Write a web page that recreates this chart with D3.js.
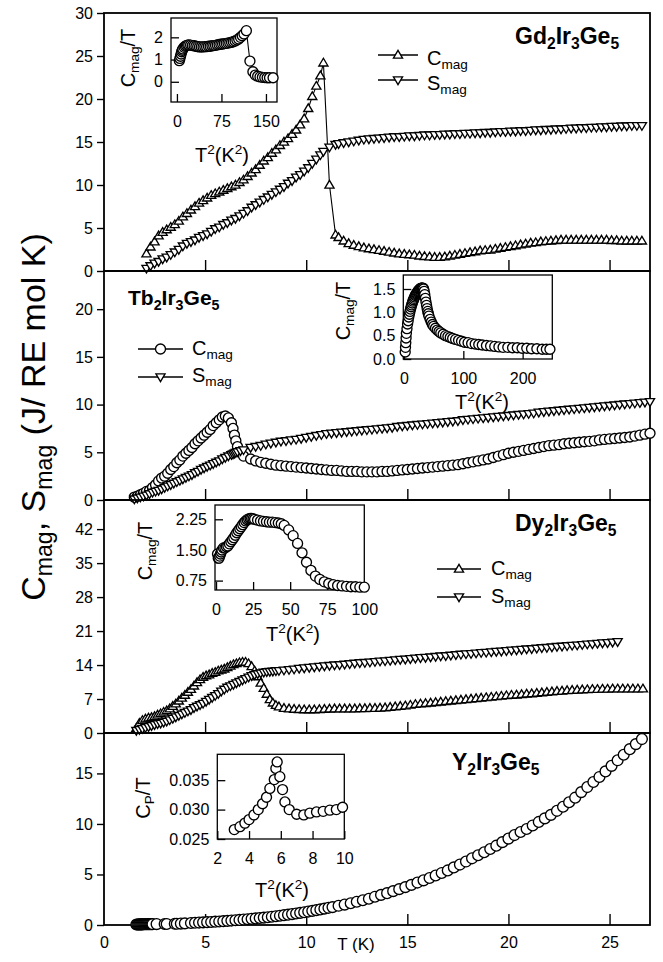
<!DOCTYPE html>
<html><head><meta charset="utf-8">
<script src="https://cdn.jsdelivr.net/npm/d3@7/dist/d3.min.js"></script>
<style>body{margin:0;background:#fff}svg{display:block}text{font-family:"Liberation Sans",Arial,Helvetica,sans-serif}</style>
</head><body><svg id="c" width="663" height="962"></svg>
<script>
// ---------------- DATA ----------------
const xTickValues = [0, 5, 10, 15, 20, 25];
const gdTicks = [0, 5, 10, 15, 20, 25, 30];
const tbTicks = [0, 5, 10, 15, 20];
const dyTicks = [0, 7, 14, 21, 28, 35, 42];
const yTicks = [0, 5, 10, 15];
const panelMax = [30, 24, 48, 19];

// Gd2Ir3Ge5
const gdT = [2.1,2.3,2.5,2.7,2.9,3.1,3.3,3.5,3.7,3.9,4.1,4.3,4.5,4.7,4.9,5.1,5.3,5.5,5.7,5.9,6.1,6.3,6.5,6.7,6.9,7.1,7.3,7.5,7.7,7.9,8.1,8.3,8.5,8.7,8.9,9.1,9.3,9.5,9.7,9.9,10.1,10.3,10.5,10.7,
 10.85,11.15,11.45,
 11.6,11.85,12.1,12.35,12.6,12.85,13.1,13.35,13.6,13.85,14.1,14.35,14.6,14.85,15.1,15.35,15.6,15.85,16.1,16.35,16.6,16.85,17.1,17.35,17.6,17.85,18.1,18.35,18.6,18.85,19.1,19.35,19.6,19.85,20.1,20.35,20.6,20.85,21.1,21.35,21.6,21.85,22.1,22.35,22.6,22.85,23.1,23.35,23.6,23.85,24.1,24.35,24.6,24.85,25.1,25.35,25.6,25.85,26.1,26.35,26.6];
const gdC = [2.0,2.8,3.4,4.1,4.5,4.8,5.1,5.4,5.8,6.3,6.7,7.1,7.5,7.9,8.2,8.5,8.8,9.0,9.2,9.4,9.6,9.8,10.0,10.3,10.6,11.0,11.4,11.8,12.3,12.8,13.2,13.7,14.1,14.6,15.0,15.4,15.9,16.4,17.0,17.7,18.9,20.3,21.5,22.7,
 24.2,10.0,4.2,
 3.9,3.5,3.2,3.0,2.85,2.7,2.6,2.5,2.4,2.3,2.2,2.1,2.0,1.95,1.9,1.85,1.75,1.7,1.65,1.6,1.6,1.65,1.75,1.85,1.95,2.05,2.15,2.25,2.35,2.4,2.45,2.55,2.65,2.75,2.85,2.95,3.05,3.15,3.25,3.3,3.4,3.45,3.5,3.55,3.6,3.6,3.6,3.6,3.6,3.6,3.6,3.6,3.6,3.6,3.55,3.55,3.5,3.5,3.5,3.5,3.5];
const gdS = [0.3,0.6,0.9,1.1,1.4,1.6,1.9,2.2,2.5,2.9,3.2,3.4,3.6,3.9,4.1,4.3,4.6,4.9,5.1,5.4,5.6,5.9,6.1,6.4,6.7,7.0,7.4,7.7,8.0,8.3,8.6,8.9,9.2,9.5,9.8,10.2,10.5,10.9,11.2,11.6,12.0,12.5,13.0,13.5,
 13.9,14.4,14.7,
 14.8,14.9,15.0,15.1,15.2,15.3,15.35,15.4,15.45,15.5,15.55,15.6,15.6,15.65,15.7,15.7,15.75,15.8,15.8,15.85,15.85,15.9,15.9,15.95,15.95,16.0,16.0,16.05,16.05,16.1,16.1,16.15,16.2,16.2,16.25,16.25,16.3,16.3,16.35,16.4,16.4,16.45,16.45,16.5,16.5,16.55,16.6,16.6,16.65,16.65,16.7,16.7,16.75,16.75,16.8,16.8,16.85,16.85,16.9,16.9,16.9];

// Tb2Ir3Ge5
const tbT = [1.5,1.65,1.8,1.95,2.1,2.25,2.4,2.55,2.7,2.85,3.0,3.15,3.3,3.45,3.6,3.75,3.9,4.05,4.2,4.35,4.5,4.65,4.8,4.95,5.1,5.25,5.4,5.55,5.7,5.85,6.0,6.15,6.3,6.38,6.45,6.52,6.6,6.75,6.9,
 7.25,7.5,7.75,8.0,8.25,8.5,8.75,9.0,9.25,9.5,9.75,10.0,10.25,10.5,10.75,11.0,11.25,11.5,11.75,12.0,12.25,12.5,12.75,13.0,13.25,13.5,13.75,14.0,14.25,14.5,14.75,15.0,15.25,15.5,15.75,16.0,16.25,16.5,16.75,17.0,17.25,17.5,17.75,18.0,18.25,18.5,18.75,19.0,19.25,19.5,19.75,20.0,20.25,20.5,20.75,21.0,21.25,21.5,21.75,22.0,22.25,22.5,22.75,23.0,23.25,23.5,23.75,24.0,24.25,24.5,24.75,25.0,25.25,25.5,25.75,26.0,26.25,26.5,26.75,27.0];
const tbC = [0.3,0.4,0.55,0.7,0.9,1.0,1.3,1.6,2.0,2.3,2.5,2.8,3.2,3.5,3.9,4.2,4.6,4.9,5.2,5.5,5.9,6.2,6.5,6.8,7.1,7.4,7.8,8.1,8.4,8.7,8.8,8.6,8.1,7.5,6.8,6.2,5.6,5.0,4.6,
 4.3,4.1,3.95,3.85,3.75,3.65,3.6,3.55,3.5,3.45,3.4,3.35,3.3,3.25,3.2,3.15,3.1,3.1,3.05,3.0,3.0,3.0,2.95,2.95,2.95,2.95,3.0,3.0,3.05,3.1,3.15,3.2,3.25,3.3,3.35,3.4,3.45,3.5,3.55,3.6,3.65,3.7,3.8,3.9,4.0,4.1,4.2,4.3,4.45,4.6,4.75,4.9,5.0,5.1,5.2,5.3,5.4,5.5,5.6,5.7,5.75,5.8,5.9,5.95,6.0,6.05,6.1,6.15,6.2,6.3,6.35,6.4,6.45,6.5,6.55,6.6,6.7,6.8,6.9,7.0];
const tbS = [0.1,0.2,0.3,0.4,0.5,0.65,0.8,0.9,1.0,1.15,1.3,1.45,1.6,1.75,1.9,2.05,2.2,2.35,2.5,2.65,2.85,3.0,3.2,3.35,3.5,3.65,3.8,3.95,4.1,4.3,4.45,4.6,4.75,4.82,4.9,4.97,5.05,5.15,5.25,
 5.5,5.6,5.7,5.85,5.95,6.05,6.15,6.2,6.3,6.35,6.45,6.55,6.65,6.75,6.85,6.95,7.0,7.05,7.1,7.15,7.2,7.25,7.3,7.35,7.4,7.45,7.5,7.55,7.6,7.7,7.75,7.8,7.85,7.9,7.95,8.0,8.05,8.1,8.15,8.2,8.25,8.3,8.4,8.45,8.5,8.55,8.6,8.65,8.7,8.75,8.8,8.85,8.9,8.95,9.0,9.05,9.1,9.2,9.25,9.3,9.35,9.4,9.45,9.5,9.55,9.6,9.65,9.7,9.75,9.8,9.85,9.9,9.95,10.0,10.05,10.1,10.15,10.2,10.25,10.3];

// Dy2Ir3Ge5
const dyT = [1.6,1.75,1.9,2.05,2.2,2.35,2.5,2.65,2.8,2.95,3.1,3.25,3.4,3.55,3.7,3.85,4.0,4.15,4.3,4.45,4.6,4.75,4.9,5.05,5.2,5.35,5.5,5.65,5.8,5.95,6.1,6.25,6.4,6.55,6.7,6.85,7.0,7.15,7.3,7.45,7.6,7.75,7.9,8.05,8.2,8.35,8.5,8.65,
 8.9,9.15,9.4,9.65,9.9,10.15,10.4,10.65,10.9,11.15,11.4,11.65,11.9,12.15,12.4,12.65,12.9,13.15,13.4,13.65,13.9,14.15,14.4,14.65,14.9,15.15,15.4,15.65,15.9,16.15,16.4,16.65,16.9,17.15,17.4,17.65,17.9,18.15,18.4,18.65,18.9,19.15,19.4,19.65,19.9,20.15,20.4,20.65,20.9,21.15,21.4,21.65,21.9,22.15,22.4,22.65,22.9,23.15,23.4,23.65,23.9,24.15,24.4,24.65,24.9,25.15,25.4,25.65,25.9,26.15,26.4,26.65];
const dyC = [1.0,2.0,2.6,2.9,3.1,3.2,3.4,3.7,4.0,4.3,4.6,5.0,5.5,6.0,6.6,7.2,7.8,8.4,9.0,9.7,10.4,11.0,11.5,11.8,12.0,12.3,12.5,12.8,13.0,13.2,13.5,13.8,14.1,14.3,14.5,14.6,14.6,14.3,13.7,12.8,11.6,10.3,9.2,8.0,6.9,6.2,5.7,5.4,
 5.1,5.0,4.9,4.85,4.8,4.8,4.8,4.85,4.9,4.95,5.0,5.0,5.0,5.0,5.0,5.05,5.05,5.1,5.1,5.15,5.2,5.3,5.4,5.5,5.6,5.75,5.9,6.0,6.1,6.2,6.3,6.4,6.5,6.6,6.7,6.8,6.9,7.0,7.1,7.2,7.3,7.4,7.5,7.6,7.7,7.8,7.85,7.95,8.05,8.1,8.2,8.3,8.4,8.5,8.6,8.65,8.75,8.8,8.85,8.9,8.95,9.0,9.0,9.05,9.05,9.1,9.1,9.1,9.1,9.1,9.1,9.1];
const dyS = [0.5,0.7,0.9,1.1,1.3,1.5,1.7,1.9,2.0,2.2,2.4,2.7,3.0,3.3,3.6,3.9,4.2,4.5,4.8,5.2,5.5,5.8,6.1,6.5,6.9,7.3,7.7,8.1,8.6,9.0,9.4,9.7,10.0,10.3,10.6,10.9,11.2,11.5,11.8,12.0,12.2,12.35,12.5,12.6,12.65,12.7,12.8,12.85,
 12.95,13.05,13.15,13.3,13.4,13.5,13.6,13.7,13.8,13.9,14.0,14.05,14.15,14.25,14.35,14.45,14.5,14.6,14.7,14.8,14.85,14.95,15.05,15.15,15.2,15.3,15.4,15.5,15.55,15.65,15.75,15.85,15.9,16.0,16.1,16.2,16.3,16.35,16.45,16.55,16.6,16.7,16.8,16.85,16.95,17.05,17.1,17.2,17.3,17.35,17.45,17.55,17.6,17.7,17.8,17.85,17.95,18.05,18.1,18.2,18.3,18.35,18.45,18.55,18.6,18.7,18.8];

// Y2Ir3Ge5
const yT = [1.6,1.65,1.7,1.75,1.8,1.85,1.9,1.95,2.0,2.05,2.1,2.15,2.2,2.25,2.3,2.35,2.4,
 2.6,3.0,3.1,3.5,3.6,3.8,4.0,
 4.3,4.5,4.7,4.9,5.1,5.3,5.5,5.7,5.9,6.1,6.3,6.5,6.7,6.9,7.1,7.3,7.5,7.7,7.9,8.1,8.3,8.5,8.7,8.9,9.1,9.3,9.5,9.7,9.9,10.1,10.3,10.5,10.7,10.9,11.1,
 11.3,11.6,11.9,12.2,12.5,12.8,13.1,13.4,13.7,14.0,14.3,14.6,14.9,15.2,15.5,15.8,16.1,16.4,16.7,17.0,17.3,17.6,17.9,18.2,18.5,18.8,19.1,19.4,19.7,20.0,20.3,20.6,20.9,21.2,21.5,21.8,22.1,22.4,22.7,23.0,23.3,23.6,23.9,24.2,24.5,24.8,25.1,25.4,25.7,26.0,26.3,26.6];
const yC = [0.05,0.05,0.05,0.06,0.06,0.06,0.06,0.07,0.07,0.07,0.07,0.07,0.08,0.08,0.08,0.08,0.08,
 0.09,0.1,0.1,0.12,0.12,0.14,0.16,
 0.2,0.22,0.24,0.26,0.28,0.3,0.33,0.35,0.38,0.41,0.44,0.47,0.5,0.54,0.57,0.61,0.65,0.69,0.73,0.77,0.82,0.87,0.92,0.97,1.02,1.08,1.14,1.2,1.26,1.33,1.4,1.47,1.54,1.62,1.7,
 1.77,1.9,2.02,2.15,2.3,2.45,2.6,2.8,2.98,3.15,3.35,3.55,3.75,3.97,4.2,4.42,4.65,4.9,5.15,5.4,5.7,5.98,6.28,6.6,6.9,7.2,7.52,7.85,8.2,8.55,8.9,9.2,9.5,9.85,10.2,10.55,10.9,11.3,11.7,12.15,12.6,13.15,13.65,14.15,14.65,15.2,15.75,16.3,16.85,17.4,17.9,18.4];

// Insets: T^2 (K^2) vs C/T
const gdInT2 = [4,5,6,7,8,9,10,12,14,16,18,20,23,26,29,32,35,38,41,44,47,50,53,56,59,62,65,68,71,74,77,80,83,86,89,92,95,98,101,104,107,110,113,117,123,128,132,136,140,144,148,152,156,162];
const gdInC = [0.95,1.05,1.15,1.25,1.35,1.42,1.48,1.55,1.6,1.63,1.65,1.66,1.65,1.63,1.62,1.6,1.58,1.57,1.57,1.57,1.58,1.58,1.6,1.6,1.62,1.63,1.64,1.66,1.68,1.69,1.7,1.72,1.73,1.74,1.76,1.78,1.8,1.84,1.88,1.93,2.0,2.07,2.15,2.3,0.93,0.45,0.3,0.25,0.22,0.2,0.19,0.18,0.18,0.18];
const gdInXTicks = [0, 75, 150];
const gdInYTicks = [0, 1, 2];
const gdInYLabels = ["0", "1", "2"];

const tbInT2 = [2,2.5,3,3.5,4,5,6,7,8,9,10,11,12,13,14,15,16,17,18,19,20,21,22,23,24,25,26,27,28,29,30,31,32,33,34,35,36,37,38,39,40,41,42,44,46,48,50,53,56,59,62,66,70,74,78,82,87,92,97,102,108,114,120,126,132,139,146,153,160,167,175,183,191,199,207,215,224,233,240,246];
const tbInC = [0.15,0.25,0.35,0.45,0.55,0.65,0.75,0.82,0.9,0.96,1.02,1.07,1.12,1.16,1.2,1.24,1.27,1.3,1.33,1.36,1.38,1.4,1.42,1.44,1.46,1.47,1.49,1.5,1.51,1.52,1.52,1.52,1.52,1.5,1.45,1.38,1.3,1.22,1.15,1.08,1.02,0.97,0.92,0.85,0.79,0.74,0.7,0.66,0.62,0.59,0.56,0.53,0.5,0.48,0.46,0.44,0.42,0.4,0.38,0.36,0.35,0.33,0.32,0.31,0.3,0.29,0.28,0.27,0.26,0.25,0.25,0.24,0.24,0.23,0.23,0.22,0.22,0.21,0.21,0.21];
const tbInXTicks = [0, 100, 200];
const tbInYTicks = [0, 0.5, 1.0, 1.5];
const tbInYLabels = ["0.0", "0.5", "1.0", "1.5"];

const dyInT2 = [1,1.5,2,2.5,3,3.5,4,5,6,7,8,9,10,11,12,13,14,15,16,17,18,19,20,21,22,23,24,25,26,28,30,32,34,36,38,40,42,44,46,49,52,55,58,61,64,67,70,73,76,79,82,85,88,91,94,97,100];
const dyInC = [1.4,1.3,1.3,1.35,1.4,1.45,1.5,1.55,1.55,1.58,1.6,1.65,1.7,1.75,1.8,1.86,1.92,1.97,2.02,2.07,2.12,2.17,2.21,2.24,2.26,2.27,2.27,2.26,2.25,2.23,2.21,2.2,2.19,2.18,2.18,2.17,2.16,2.14,2.1,1.99,1.85,1.66,1.43,1.2,1.0,0.86,0.78,0.72,0.68,0.65,0.63,0.62,0.61,0.6,0.6,0.59,0.59];
const dyInXTicks = [0, 25, 50, 75, 100];
const dyInYTicks = [0.75, 1.5, 2.25];
const dyInYLabels = ["0.75", "1.50", "2.25"];

const yInT2 = [3.07,3.43,3.74,4.0,4.31,4.58,4.85,5.1,5.31,5.59,5.69,5.77,5.94,6.11,6.26,6.53,7.0,7.45,7.83,8.25,8.67,9.09,9.5,9.89];
const yInC = [0.0266,0.0271,0.0277,0.0283,0.0291,0.0300,0.0310,0.0321,0.0336,0.0351,0.0370,0.0381,0.0356,0.0334,0.0313,0.0300,0.0292,0.0291,0.0294,0.0296,0.0297,0.0299,0.0300,0.0304];
const yInXTicks = [2, 4, 6, 8, 10];
const yInYTicks = [0.025, 0.030, 0.035];
const yInYLabels = ["0.025", "0.030", "0.035"];

// ---------------- LAYOUT / DRAW ----------------
const svg = d3.select('#c');
const FONT = '"Liberation Sans", Arial, Helvetica, sans-serif';
const x = d3.scaleLinear().domain([0, 27]).range([104, 650]);

function rich(parent, px, py, parts, size, anchor, rotate, bold) {
  const t = parent.append('text').attr('x', px).attr('y', py)
    .attr('font-size', size).attr('text-anchor', anchor || 'start').attr('fill', '#000')
    .attr('font-family', FONT);
  if (bold) t.attr('font-weight', 'bold');
  if (rotate) t.attr('transform', `rotate(-90 ${px} ${py})`);
  let cur = 0;
  parts.forEach(p => {
    const s = typeof p === 'string' ? p : p[0];
    const k = typeof p === 'string' ? 'n' : p[1];
    const target = k === 'sub' ? 0.22 * size : (k === 'sup' ? -0.4 * size : 0);
    const ts = t.append('tspan').text(s);
    if (target !== cur) ts.attr('dy', target - cur);
    if (k !== 'n') ts.attr('font-size', size * 0.68);
    cur = target;
  });
  return t;
}

function markerPath(type, s) {
  if (type === 'circle') {
    return `M${s},0A${s},${s} 0 1,1 ${-s},0A${s},${s} 0 1,1 ${s},0Z`;
  }
  const w = s * 0.95, h = s * 1.6;
  if (type === 'up') return `M0,${-h * 0.6}L${w},${h * 0.4}L${-w},${h * 0.4}Z`;
  return `M0,${h * 0.6}L${w},${-h * 0.4}L${-w},${-h * 0.4}Z`;
}

function drawSeries(g, xs, ys, xs_, ys_, type, size, line) {
  const n = Math.min(xs.length, ys.length);
  const pts = d3.range(n).map(i => [xs_(xs[i]), ys_(ys[i])]);
  if (line) {
    g.append('path').attr('d', d3.line()(pts)).attr('fill', 'none')
      .attr('stroke', '#000').attr('stroke-width', 1.1);
  }
  g.append('g').selectAll('path').data(pts).join('path')
    .attr('d', markerPath(type, size))
    .attr('transform', d => `translate(${d[0]},${d[1]})`)
    .attr('fill', '#fff').attr('stroke', '#000').attr('stroke-width', 1.35);
}

const panels = [
  { top: 13, bottom: 271, max: panelMax[0], ticks: gdTicks,
    series: [[gdT, gdC, 'up', 4.8, true], [gdT, gdS, 'down', 4.8, true]],
    label: { x: 515, y: 44, size: 23, parts: ['Gd', ['2', 'sub'], 'Ir', ['3', 'sub'], 'Ge', ['5', 'sub']] },
    legend: { x0: 378, x1: 418, tx: 427, rows: [[55, 65, 'up', 'C'], [80, 90, 'down', 'S']] } },
  { top: 271, bottom: 500, max: panelMax[1], ticks: tbTicks,
    series: [[tbT, tbC, 'circle', 5, true], [tbT, tbS, 'down', 4.8, true]],
    label: { x: 128, y: 305, size: 21, parts: ['Tb', ['2', 'sub'], 'Ir', ['3', 'sub'], 'Ge', ['5', 'sub']] },
    legend: { x0: 138, x1: 183, tx: 192, rows: [[349, 355, 'circle', 'C'], [377, 382, 'down', 'S']] } },
  { top: 500, bottom: 733, max: panelMax[2], ticks: dyTicks,
    series: [[dyT, dyC, 'up', 4.8, true], [dyT, dyS, 'down', 4.8, true]],
    label: { x: 515, y: 531, size: 23, parts: ['Dy', ['2', 'sub'], 'Ir', ['3', 'sub'], 'Ge', ['5', 'sub']] },
    legend: { x0: 437, x1: 481, tx: 491, rows: [[569, 575, 'up', 'C'], [597, 603, 'down', 'S']] } },
  { top: 733, bottom: 925, max: panelMax[3], ticks: yTicks,
    series: [[yT, yC, 'circle', 5.4, false]],
    label: { x: 452, y: 770, size: 23, parts: ['Y', ['2', 'sub'], 'Ir', ['3', 'sub'], 'Ge', ['5', 'sub']] },
    legend: null }
];

panels.forEach((p, pi) => {
  const y = d3.scaleLinear().domain([0, p.max]).range([p.bottom, p.top]);
  const g = svg.append('g');
  g.append('rect').attr('x', x(0)).attr('y', p.top).attr('width', x(27) - x(0))
    .attr('height', p.bottom - p.top).attr('fill', 'none').attr('stroke', '#000').attr('stroke-width', 1.8);
  const ay = g.append('g').attr('transform', `translate(${x(0)},0)`)
    .call(d3.axisLeft(y).tickValues(p.ticks).tickSize(7).tickPadding(4));
  ay.select('.domain').remove();
  ay.selectAll('line').attr('stroke', '#000').attr('stroke-width', 1.4);
  ay.selectAll('text').attr('font-size', 16).attr('font-family', FONT).attr('fill', '#000');
  const ax = g.append('g').attr('transform', `translate(0,${p.bottom})`)
    .call(d3.axisBottom(x).tickValues(xTickValues.filter(v => v > 0)).tickSize(-11).tickFormat(''));
  ax.select('.domain').remove();
  ax.selectAll('line').attr('stroke', '#000').attr('stroke-width', 1.4);
  if (pi === panels.length - 1) {
    const axl = g.append('g').attr('transform', `translate(0,${p.bottom})`)
      .call(d3.axisBottom(x).tickValues(xTickValues).tickSize(0).tickPadding(12));
    axl.select('.domain').remove();
    axl.selectAll('line').remove();
    axl.selectAll('text').attr('font-size', 16).attr('font-family', FONT).attr('fill', '#000');
  }
  p.series.forEach(s => drawSeries(g, s[0], s[1], x, y, s[2], s[3], s[4]));
  rich(g, p.label.x, p.label.y, p.label.parts, p.label.size, 'start', false, true);
  if (p.legend) {
    const L = p.legend;
    L.rows.forEach(r => {
      g.append('line').attr('x1', L.x0).attr('x2', L.x1).attr('y1', r[0]).attr('y2', r[0])
        .attr('stroke', '#000').attr('stroke-width', 1.6);
      g.append('path').attr('d', markerPath(r[2], r[2] === 'circle' ? 5 : 4.8))
        .attr('transform', `translate(${(L.x0 + L.x1) / 2},${r[0]})`)
        .attr('fill', '#fff').attr('stroke', '#000').attr('stroke-width', 1.35);
      rich(g, L.tx, r[1], [r[3], ['mag', 'sub']], 20, 'start');
    });
  }
});

// axis titles
rich(svg, 356, 950, ['T (K)'], 17, 'middle');
rich(svg, 45, 417, ['C', ['mag', 'sub'], ', S', ['mag', 'sub'], ' (J/ RE mol K)'], 34, 'middle', true);

// insets
const insets = [
  { box: [171, 18, 277, 102], xd: [-10, 168.6], yd: [-0.91, 2.87], xs: gdInT2, ys: gdInC, line: true,
    xt: gdInXTicks, yt: gdInYTicks, yl: gdInYLabels,
    ylab: { x: 135, y: 58, parts: ['C', ['mag', 'sub'], '/T'] }, xlab: { x: 222, y: 162 } },
  { box: [403.3, 275, 552.3, 359], xd: [-1.2, 250], yd: [0, 1.8], xs: tbInT2, ys: tbInC, line: false,
    xt: tbInXTicks, yt: tbInYTicks, yl: tbInYLabels,
    ylab: { x: 350, y: 311, parts: ['C', ['mag', 'sub'], '/T'] }, xlab: { x: 482, y: 409 } },
  { box: [215, 505, 364.3, 590], xd: [-0.7, 100], yd: [0.52, 2.6], xs: dyInT2, ys: dyInC, line: false,
    xt: dyInXTicks, yt: dyInYTicks, yl: dyInYLabels,
    ylab: { x: 152, y: 551, parts: ['C', ['mag', 'sub'], '/T'] }, xlab: { x: 293, y: 641 } },
  { box: [217.3, 754.3, 344.3, 839], xd: [2, 10], yd: [0.025, 0.0394], xs: yInT2, ys: yInC, line: false,
    xt: yInXTicks, yt: yInYTicks, yl: yInYLabels,
    ylab: { x: 150, y: 798, parts: ['C', ['P', 'sub'], '/T'] }, xlab: { x: 282, y: 897 } }
];

insets.forEach(ins => {
  const [x0, y0, x1, y1] = ins.box;
  const g = svg.append('g');
  const xs = d3.scaleLinear().domain(ins.xd).range([x0, x1]);
  const ys = d3.scaleLinear().domain(ins.yd).range([y1, y0]);
  g.append('rect').attr('x', x0).attr('y', y0).attr('width', x1 - x0).attr('height', y1 - y0)
    .attr('fill', '#fff').attr('stroke', '#000').attr('stroke-width', 1.3);
  const ax = g.append('g').attr('transform', `translate(0,${y1})`)
    .call(d3.axisBottom(xs).tickValues(ins.xt).tickSize(-8).tickPadding(13.5));
  ax.select('.domain').remove();
  ax.selectAll('line').attr('stroke', '#000').attr('stroke-width', 1.3);
  ax.selectAll('text').attr('font-size', 16).attr('font-family', FONT).attr('fill', '#000');
  const ay = g.append('g').attr('transform', `translate(${x0},0)`)
    .call(d3.axisLeft(ys).tickValues(ins.yt).tickSize(-8).tickPadding(8)
      .tickFormat((d, i) => ins.yl[i]));
  ay.select('.domain').remove();
  ay.selectAll('line').attr('stroke', '#000').attr('stroke-width', 1.3);
  ay.selectAll('text').attr('font-size', 16).attr('font-family', FONT).attr('fill', '#000');
  drawSeries(g, ins.xs, ins.ys, xs, ys, 'circle', 5, ins.line);
  rich(g, ins.ylab.x, ins.ylab.y, ins.ylab.parts, 20, 'middle', true);
  rich(g, ins.xlab.x, ins.xlab.y, ['T', ['2', 'sup'], '(K', ['2', 'sup'], ')'], 20, 'middle');
});
</script></body></html>
